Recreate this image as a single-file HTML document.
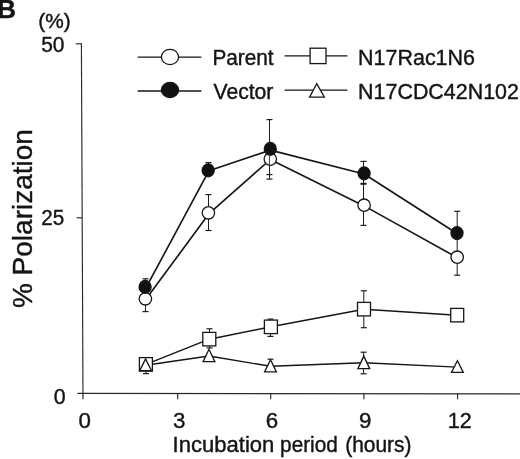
<!DOCTYPE html><html><head><meta charset="utf-8"><title>B</title><style>html,body{margin:0;padding:0;background:#fff;overflow:hidden}svg{display:block;will-change:transform}text{font-family:"Liberation Sans",Arial,Helvetica,sans-serif;fill:#141414;stroke:#141414;stroke-width:.4px}</style></head><body>
<svg width="520" height="459" viewBox="0 0 520 459">
<rect width="520" height="459" fill="#fff"/>
<g stroke="#2a2a2a" stroke-width="1.15" fill="none">
<line x1="81.4" y1="43.3" x2="83" y2="399.2"/>
<line x1="77.5" y1="393.4" x2="520" y2="393.9"/>
<line x1="75.8" y1="43.8" x2="81.4" y2="43.8"/>
<line x1="76.5" y1="217.8" x2="82.2" y2="217.8"/>
<line x1="177.7" y1="393.6" x2="177.7" y2="399.3"/>
<line x1="270.7" y1="393.6" x2="270.7" y2="399.3"/>
<line x1="363.9" y1="393.6" x2="363.9" y2="399.3"/>
<line x1="457.6" y1="393.6" x2="457.6" y2="399.3"/>
</g>
<g stroke="#1c1c1c" stroke-width="1" fill="none">
<line x1="145.5" y1="299" x2="145.5" y2="311.6"/>
<line x1="142.5" y1="311.6" x2="148.5" y2="311.6" stroke-width="1.2"/>
<line x1="208.5" y1="194.6" x2="208.5" y2="230.5"/>
<line x1="205.5" y1="194.6" x2="211.5" y2="194.6" stroke-width="1.2"/>
<line x1="205.5" y1="230.5" x2="211.5" y2="230.5" stroke-width="1.2"/>
<line x1="269.5" y1="159" x2="269.5" y2="174.6"/>
<line x1="266.5" y1="174.6" x2="272.5" y2="174.6" stroke-width="1.2"/>
<line x1="363.5" y1="183.4" x2="363.5" y2="225.4"/>
<line x1="360.5" y1="183.4" x2="366.5" y2="183.4" stroke-width="1.2"/>
<line x1="360.5" y1="225.4" x2="366.5" y2="225.4" stroke-width="1.2"/>
<line x1="457.2" y1="233" x2="457.2" y2="275.2"/>
<line x1="454.2" y1="275.2" x2="460.2" y2="275.2" stroke-width="1.2"/>
<line x1="145.5" y1="278.8" x2="145.5" y2="287"/>
<line x1="142.5" y1="278.8" x2="148.5" y2="278.8" stroke-width="1.2"/>
<line x1="208.5" y1="162.6" x2="208.5" y2="170"/>
<line x1="205.5" y1="162.6" x2="211.5" y2="162.6" stroke-width="1.2"/>
<line x1="269.5" y1="119.6" x2="269.5" y2="179.1"/>
<line x1="266.5" y1="119.6" x2="272.5" y2="119.6" stroke-width="1.2"/>
<line x1="266.5" y1="179.1" x2="272.5" y2="179.1" stroke-width="1.2"/>
<line x1="363.5" y1="161.4" x2="363.5" y2="184.2"/>
<line x1="360.5" y1="161.4" x2="366.5" y2="161.4" stroke-width="1.2"/>
<line x1="360.5" y1="184.2" x2="366.5" y2="184.2" stroke-width="1.2"/>
<line x1="457.2" y1="211.3" x2="457.2" y2="233"/>
<line x1="454.2" y1="211.3" x2="460.2" y2="211.3" stroke-width="1.2"/>
<line x1="146" y1="371" x2="146" y2="373.6"/>
<line x1="143" y1="373.6" x2="149" y2="373.6" stroke-width="1.2"/>
<line x1="209.5" y1="328.8" x2="209.5" y2="339"/>
<line x1="206.5" y1="328.8" x2="212.5" y2="328.8" stroke-width="1.2"/>
<line x1="209.6" y1="346" x2="209.6" y2="347.9"/>
<line x1="206.6" y1="347.9" x2="212.6" y2="347.9" stroke-width="1.2"/>
<line x1="270.5" y1="319.1" x2="270.5" y2="336.4"/>
<line x1="267.5" y1="319.1" x2="273.5" y2="319.1" stroke-width="1.2"/>
<line x1="267.5" y1="336.4" x2="273.5" y2="336.4" stroke-width="1.2"/>
<line x1="363.8" y1="290.8" x2="363.8" y2="327.7"/>
<line x1="360.8" y1="290.8" x2="366.8" y2="290.8" stroke-width="1.2"/>
<line x1="360.8" y1="327.7" x2="366.8" y2="327.7" stroke-width="1.2"/>
<line x1="270.5" y1="359.2" x2="270.5" y2="360.5"/>
<line x1="267.5" y1="359.2" x2="273.5" y2="359.2" stroke-width="1.2"/>
<line x1="363.6" y1="352.2" x2="363.6" y2="373.8"/>
<line x1="360.6" y1="352.2" x2="366.6" y2="352.2" stroke-width="1.2"/>
<line x1="360.6" y1="373.8" x2="366.6" y2="373.8" stroke-width="1.2"/>
</g>
<g stroke="#161616" stroke-width="1.65" fill="none" stroke-linejoin="round">
<polyline points="146.4,298.6 209.3,213.3 270.3,159.5 364.1,205.9 457.2,257.6"/>
<polyline points="146.3,287.2 209.0,170.7 270.3,150.1 364.1,174.0 457.0,233.5"/>
</g>
<g stroke="#161616" stroke-width="1.45" fill="none" stroke-linejoin="round">
<polyline points="145.9,364.4 209.3,339.2 270.9,326.8 364.0,309.2 457.2,315.2"/>
<polyline points="145.6,365.2 209.0,356.0 270.5,366.3 363.8,362.8 457.4,367.1"/>
</g>
<g stroke="#161616" stroke-width="1.3" stroke-linejoin="miter">
<circle cx="145.4" cy="298.8" r="6.2" fill="#fff"/>
<circle cx="208.4" cy="212.8" r="6.2" fill="#fff"/>
<circle cx="270.3" cy="159.1" r="6.2" fill="#fff"/>
<circle cx="364.1" cy="205.2" r="6.2" fill="#fff"/>
<circle cx="457.2" cy="257.2" r="6.2" fill="#fff"/>
<ellipse cx="145.1" cy="286.9" rx="6" ry="6.4" fill="#111"/>
<ellipse cx="208.2" cy="170.4" rx="6" ry="6.4" fill="#111"/>
<ellipse cx="270.3" cy="148.9" rx="6" ry="6.4" fill="#111"/>
<ellipse cx="364.1" cy="173.4" rx="6" ry="6.4" fill="#111"/>
<ellipse cx="457" cy="233.1" rx="6" ry="6.4" fill="#111"/>
<rect x="139.4" y="357.6" width="13" height="13.5" fill="#fff"/>
<rect x="202.8" y="332.4" width="13" height="13.5" fill="#fff"/>
<rect x="264.4" y="320.1" width="13" height="13.5" fill="#fff"/>
<rect x="357.5" y="302.4" width="13" height="13.5" fill="#fff"/>
<rect x="450.7" y="308.4" width="13" height="13.5" fill="#fff"/>
<polygon points="145.6,358.9 139.7,370.7 151.5,370.7" fill="#fff"/>
<polygon points="209.0,349.3 203.1,361.7 214.9,361.7" fill="#fff"/>
<polygon points="270.5,359.8 264.6,371.9 276.4,371.9" fill="#fff"/>
<polygon points="363.8,356.1 357.9,368.6 369.7,368.6" fill="#fff"/>
<polygon points="457.4,360.8 451.5,372.4 463.3,372.4" fill="#fff"/>
</g>
<line x1="269.5" y1="154" x2="269.5" y2="166" stroke="#333" stroke-width="0.9"/>
<g stroke="#161616" stroke-width="1.3">
<line x1="137.7" y1="57.2" x2="201.4" y2="57.2"/><ellipse cx="170" cy="57" rx="8.6" ry="7.6" fill="#fff"/>
<line x1="137.7" y1="91" x2="201.4" y2="91"/><ellipse cx="170" cy="90" rx="8.6" ry="7.5" fill="#111"/>
<line x1="284.6" y1="55.8" x2="347.4" y2="55.8"/><rect x="310.1" y="48.2" width="15.9" height="15.4" fill="#fff"/>
<line x1="284.6" y1="90.1" x2="347.4" y2="90.1"/><polygon points="316.7,83.7 309.6,97.1 324.4,97.1" fill="#fff"/>
</g>
<text x="212.4" y="64.9" font-size="21.3" textLength="61.1" lengthAdjust="spacingAndGlyphs">Parent</text>
<text x="213.5" y="99" font-size="21.3" textLength="59.9" lengthAdjust="spacingAndGlyphs">Vector</text>
<text x="358.1" y="64.8" font-size="21.3" textLength="116.9" lengthAdjust="spacingAndGlyphs">N17Rac1N6</text>
<text x="358.1" y="98.9" font-size="21.3" textLength="160.8" lengthAdjust="spacingAndGlyphs">N17CDC42N102</text>
<text x="-2.7" y="18" font-size="26" font-weight="bold">B</text>
<text x="38.3" y="27.5" font-size="20.8">(%)</text>
<text x="41.2" y="51.6" font-size="22.3" textLength="23.3" lengthAdjust="spacingAndGlyphs">50</text>
<text x="41.2" y="224.7" font-size="22.3" textLength="22.9" lengthAdjust="spacingAndGlyphs">25</text>
<text x="65.6" y="404.1" font-size="21.4" text-anchor="end">0</text>
<text x="84.7" y="427.8" font-size="22.3" text-anchor="middle">0</text>
<text x="179.1" y="427.8" font-size="22.3" text-anchor="middle">3</text>
<text x="272" y="427.8" font-size="22.3" text-anchor="middle">6</text>
<text x="365.1" y="427.8" font-size="22.3" text-anchor="middle">9</text>
<text x="459.8" y="427.8" font-size="22.3" text-anchor="middle" textLength="24" lengthAdjust="spacingAndGlyphs">12</text>
<text y="452.4" font-size="21.5"><tspan x="172.6" textLength="101.8" lengthAdjust="spacingAndGlyphs">Incubation</tspan> <tspan x="280.1" textLength="57.7" lengthAdjust="spacingAndGlyphs">period</tspan> <tspan x="345.2" textLength="66.3" lengthAdjust="spacingAndGlyphs">(hours)</tspan></text>
<text transform="translate(31.8,218.6) rotate(-90)" font-size="28" text-anchor="middle">% Polarization</text>
</svg></body></html>
